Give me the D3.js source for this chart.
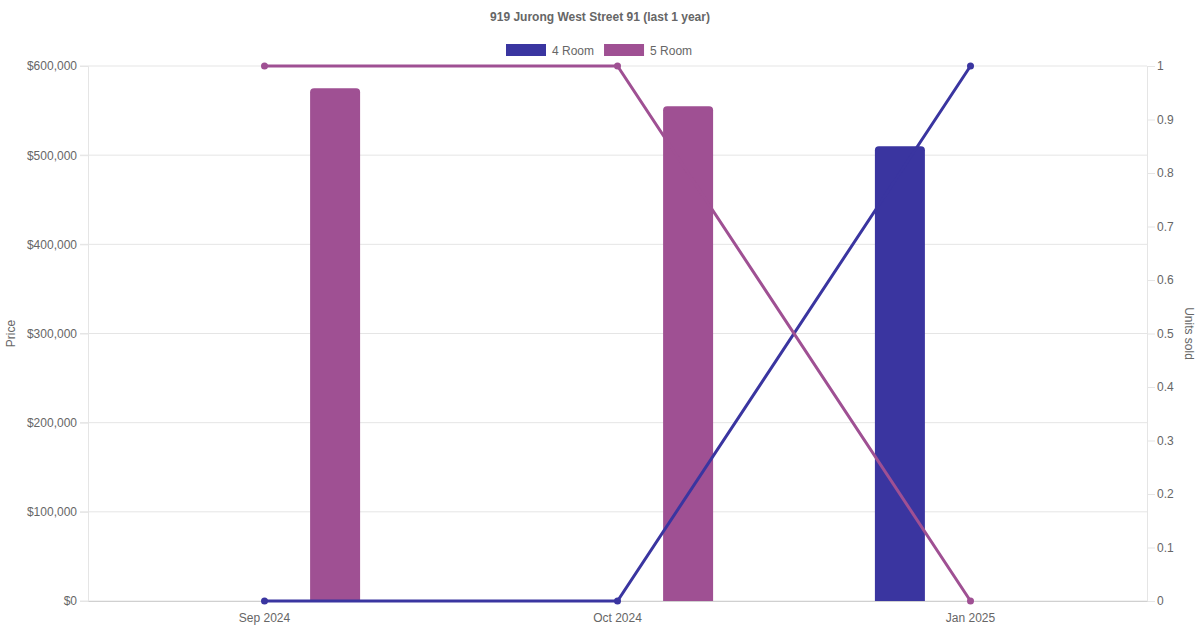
<!DOCTYPE html>
<html>
<head>
<meta charset="utf-8">
<script src="https://cdn.jsdelivr.net/npm/d3@7"></script>
<style>
  body { margin: 0; background: #fff; }
  svg { display: block; font-family: 'Liberation Sans', Arial, sans-serif; }
</style>
</head>
<body>
<svg id="chart"></svg>
<script>
const months = ['Sep 2024', 'Oct 2024', 'Jan 2025'];
const series = ['4 Room', '5 Room'];
const colors = ['#3a35a0', '#9f5093'];
const price4 = [null, null, 510000];
const price5 = [575000, 555000, null];
const units4 = [0, 0, 1];
const units5 = [1, 1, 0];
const title = '919 Jurong West Street 91 (last 1 year)';

const W = 1200, H = 630;
const margin = { top: 66, right: 53, bottom: 29, left: 88 };
const width = W - margin.left - margin.right,
  height = H - margin.top - margin.bottom;

const svg = d3.select('#chart').attr('width', W).attr('height', H);
const textColor = '#666';
const gridColor = '#e5e5e5';

// title
svg.append('text')
  .attr('x', W / 2).attr('y', 21)
  .attr('text-anchor', 'middle')
  .style('font-size', '12px').style('font-weight', 'bold')
  .attr('fill', textColor)
  .text(title);

// legend
const legend = svg.append('g');
let lx = 506;
series.forEach(function (s, i) {
  legend.append('rect')
    .attr('x', lx).attr('y', 44).attr('width', 40).attr('height', 12)
    .attr('fill', colors[i]);
  const t = legend.append('text')
    .attr('x', lx + 46).attr('y', 54.5)
    .style('font-size', '12px')
    .attr('fill', textColor)
    .text(s);
  lx += 46 + t.node().getComputedTextLength() + 10;
});

const g = svg.append('g')
  .attr('transform', 'translate(' + margin.left + ',' + margin.top + ')');

// scales
const x = d3.scaleBand().domain(months).range([0, width]);
const x1 = d3.scaleBand().domain(series)
  .range([x.bandwidth() * 0.1, x.bandwidth() * 0.9]);
const y = d3.scaleLinear().domain([0, 600000]).range([height, 0]);
const y2 = d3.scaleLinear().domain([0, 1]).range([height, 0]);

// grid
g.append('g').selectAll('line')
  .data(y.ticks(6))
  .enter().append('line')
  .attr('x1', -8).attr('x2', width)
  .attr('y1', d => y(d)).attr('y2', d => y(d))
  .attr('stroke', gridColor);

// left axis
const yAxis = g.append('g')
  .call(d3.axisLeft(y).ticks(6).tickSize(8).tickPadding(3)
    .tickFormat(d => '$' + d3.format(',')(d)));
yAxis.select('.domain').attr('stroke', gridColor);
yAxis.selectAll('.tick line').attr('stroke', gridColor);
yAxis.selectAll('text').attr('fill', textColor)
  .style('font-size', '12px').style('font-family', 'Liberation Sans, Arial, sans-serif');

// right axis
const y2Axis = g.append('g')
  .attr('transform', 'translate(' + width + ',0)')
  .call(d3.axisRight(y2).ticks(10).tickSize(8).tickPadding(2)
    .tickFormat(d3.format('~g')));
y2Axis.select('.domain').attr('stroke', gridColor);
y2Axis.selectAll('.tick line').attr('stroke', gridColor);
y2Axis.selectAll('text').attr('fill', textColor)
  .style('font-size', '12px').style('font-family', 'Liberation Sans, Arial, sans-serif');

// bottom axis
const xAxis = g.append('g')
  .attr('transform', 'translate(0,' + height + ')')
  .call(d3.axisBottom(x).tickSize(0).tickPadding(12));
xAxis.select('.domain').attr('stroke', '#d0d0d0');
xAxis.selectAll('text').attr('fill', textColor)
  .style('font-size', '12px').style('font-family', 'Liberation Sans, Arial, sans-serif');

// axis titles
svg.append('text')
  .attr('transform', 'translate(15,' + (margin.top + height / 2) + ') rotate(-90)')
  .attr('text-anchor', 'middle')
  .style('font-size', '12px').attr('fill', textColor)
  .text('Price');
svg.append('text')
  .attr('transform', 'translate(1185,' + (margin.top + height / 2) + ') rotate(90)')
  .attr('text-anchor', 'middle')
  .style('font-size', '12px').attr('fill', textColor)
  .text('Units sold');

// bars (price), top corners rounded
const barW = 50, rad = 4;
function topRounded(x0, y0, w, h, r) {
  return 'M' + x0 + ',' + (y0 + h) +
    'V' + (y0 + r) + 'Q' + x0 + ',' + y0 + ' ' + (x0 + r) + ',' + y0 +
    'H' + (x0 + w - r) + 'Q' + (x0 + w) + ',' + y0 + ' ' + (x0 + w) + ',' + (y0 + r) +
    'V' + (y0 + h) + 'Z';
}
[price4, price5].forEach(function (p, i) {
  const data = months.map((m, j) => [m, p[j]]).filter(d => d[1] != null);
  g.selectAll('.bar' + i)
    .data(data)
    .enter().append('path')
    .attr('fill', colors[i])
    .attr('d', function (d) {
      const bx = x(d[0]) + x1(series[i]) + x1.bandwidth() / 2 - barW / 2;
      return topRounded(bx, y(d[1]), barW, height - y(d[1]), rad);
    });
});

// lines (units sold), drawn over the bars
const cx = d => x(d) + x.bandwidth() / 2;
[units4, units5].forEach(function (u, i) {
  const pts = months.map((m, j) => [m, u[j]]);
  g.append('path')
    .datum(pts)
    .attr('fill', 'none')
    .attr('stroke', colors[i])
    .attr('stroke-width', 3)
    .attr('d', d3.line().x(d => cx(d[0])).y(d => y2(d[1])));
  g.selectAll('.pt' + i)
    .data(pts)
    .enter().append('circle')
    .attr('cx', d => cx(d[0]))
    .attr('cy', d => y2(d[1]))
    .attr('r', 3.5)
    .attr('fill', colors[i]);
});
</script>
</body>
</html>
